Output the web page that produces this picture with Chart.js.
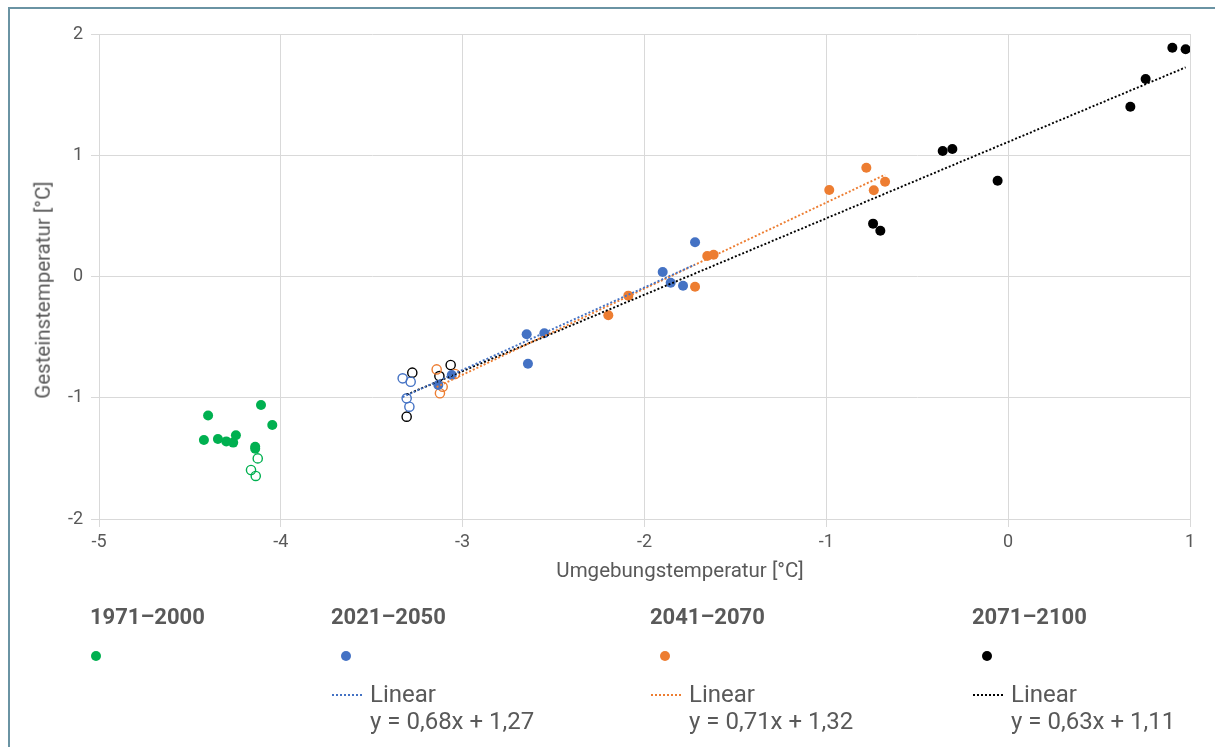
<!DOCTYPE html>
<html>
<head>
<meta charset="utf-8">
<script src="https://cdn.jsdelivr.net/npm/chart.js@4"></script>
<style>
  html, body { margin: 0; padding: 0; background: #fff; }
  #wrap { position: relative; width: 1215px; height: 747px; overflow: hidden; font-family: Roboto, "Noto Sans", sans-serif; color: #595959; }
  #frame { position: absolute; left: 8px; top: 7px; width: 1300px; height: 800px; border-left: 2px solid #6a93a3; border-top: 2px solid #6a93a3; }
  canvas { position: absolute; left: 0; top: 0; }
  .t { position: absolute; white-space: nowrap; line-height: 1; }
  .title { font-size: 22px; font-weight: bold; }
  .lin { font-size: 24px; }
  .dot { position: absolute; width: 10px; height: 10px; border-radius: 50%; }
  .sample { position: absolute; width: 30px; height: 0; border-top: 2px dotted; }
  .axt { position: absolute; font-size: 20.5px; white-space: nowrap; line-height: 1; }
</style>
</head>
<body>
<div id="wrap">
  <div id="frame"></div>
  <canvas id="c" width="1215" height="747"></canvas>
  <div id="legend"></div>
  <div class="axt" id="ytitle">Gesteinstemperatur [°C]</div>
  <div class="axt" id="xtitle">Umgebungstemperatur [°C]</div>
</div>
<script>
// ---- data ----
const periods = ["1971–2000", "2021–2050", "2041–2070", "2071–2100"];
const colors = ["#00b050", "#4472c4", "#ed7d31", "#000000"];

const green1971Filled = [
  {x:-4.423,y:-1.348},{x:-4.400,y:-1.146},{x:-4.346,y:-1.340},{x:-4.300,y:-1.360},
  {x:-4.262,y:-1.370},{x:-4.247,y:-1.310},{x:-4.109,y:-1.060},{x:-4.047,y:-1.225},
  {x:-4.141,y:-1.404},{x:-4.141,y:-1.420}
];
const green1971Open = [
  {x:-4.127,y:-1.500},{x:-4.164,y:-1.596},{x:-4.138,y:-1.645}
];
const blue2021Filled = [
  {x:-2.648,y:-0.477},{x:-2.551,y:-0.468},{x:-2.641,y:-0.719},{x:-1.900,y:0.037},
  {x:-1.856,y:-0.051},{x:-1.788,y:-0.076},{x:-1.722,y:0.282},{x:-3.134,y:-0.895},
  {x:-3.060,y:-0.812}
];
const blue2021Open = [
  {x:-3.330,y:-0.840},{x:-3.286,y:-0.868},{x:-3.308,y:-1.005},{x:-3.293,y:-1.074}
];
const orange2041Filled = [
  {x:-2.089,y:-0.158},{x:-2.199,y:-0.320},{x:-1.722,y:-0.085},{x:-1.655,y:0.169},
  {x:-1.620,y:0.180},{x:-0.984,y:0.713},{x:-0.780,y:0.897},{x:-0.739,y:0.711},
  {x:-0.677,y:0.782}
];
const orange2041Open = [
  {x:-3.143,y:-0.766},{x:-3.110,y:-0.909},{x:-3.125,y:-0.963},{x:-3.042,y:-0.804}
];
const black2071Filled = [
  {x:-0.360,y:1.035},{x:-0.307,y:1.052},{x:-0.058,y:0.790},{x:-0.743,y:0.436},
  {x:-0.703,y:0.378},{x:0.903,y:1.887},{x:0.976,y:1.874},{x:0.756,y:1.629},
  {x:0.672,y:1.400}
];
const black2071Open = [
  {x:-3.277,y:-0.793},{x:-3.066,y:-0.730},{x:-3.128,y:-0.821},{x:-3.308,y:-1.156}
];

// trend lines (legend equations) and their x extents
const trendSlopes = [0.68, 0.71, 0.63];
const trendIntercepts = [1.27, 1.32, 1.11];
const trendXMin = [-3.330, -3.143, -3.308];
const trendXMax = [-1.722, -0.677, 0.976];
const trendLabels = ["y = 0,68x + 1,27", "y = 0,71x + 1,32", "y = 0,63x + 1,11"];

const xTicks = [-5, -4, -3, -2, -1, 0, 1];
const yTicks = [-2, -1, 0, 1, 2];

// ---- chart ----
function filledDs(data, col) {
  return { type:'scatter', data, pointRadius:5, pointHoverRadius:5, pointBackgroundColor:col, pointBorderColor:col, pointBorderWidth:0, order:2 };
}
function openDs(data, col) {
  return { type:'scatter', data, pointRadius:4.6, pointHoverRadius:4.6, pointBackgroundColor:'rgba(255,255,255,0)', pointBorderColor:col, pointBorderWidth:1.4, order:2 };
}
function trendDs(i, col) {
  const a = trendSlopes[i], b = trendIntercepts[i];
  return { type:'line', data:[{x:trendXMin[i], y:a*trendXMin[i]+b},{x:trendXMax[i], y:a*trendXMax[i]+b}],
    borderColor:col, borderWidth:1.9, borderDash:[2,2], pointRadius:0, fill:false, order:1 };
}

const datasets = [
  filledDs(green1971Filled, colors[0]), openDs(green1971Open, colors[0]),
  filledDs(blue2021Filled, colors[1]), openDs(blue2021Open, colors[1]),
  filledDs(orange2041Filled, colors[2]), openDs(orange2041Open, colors[2]),
  filledDs(black2071Filled, colors[3]), openDs(black2071Open, colors[3]),
  trendDs(0, colors[1]), trendDs(1, colors[2]), trendDs(2, colors[3])
];

const tickFont = { family: 'Roboto', size: 18 };
new Chart(document.getElementById('c'), {
  type: 'scatter',
  data: { datasets },
  options: {
    responsive: false,
    animation: false,
    devicePixelRatio: 1,
    layout: { padding: { left: 39, top: 34, right: 25, bottom: 188 } },
    plugins: { legend: { display: false }, tooltip: { enabled: false } },
    scales: {
      x: {
        type: 'linear', min: xTicks[0], max: xTicks[xTicks.length-1],
        afterBuildTicks: s => { s.ticks = xTicks.map(v => ({value:v})); },
        afterFit: s => { s.height = 40; },
        ticks: { font: tickFont, color: '#595959', padding: 5, maxRotation: 0 },
        grid: { color: '#d9d9d9', lineWidth: 1, tickLength: 8, tickColor: '#d9d9d9' },
        border: { color: '#d9d9d9' }
      },
      y: {
        type: 'linear', min: yTicks[0], max: yTicks[yTicks.length-1],
        afterBuildTicks: s => { s.ticks = yTicks.map(v => ({value:v})); },
        afterFit: s => { s.width = 60; },
        ticks: { font: tickFont, color: '#595959', padding: 8 },
        grid: { color: '#d9d9d9', lineWidth: 1, tickLength: 8, tickColor: '#d9d9d9' },
        border: { color: '#d9d9d9' }
      }
    }
  }
});

// ---- legend (HTML) ----
const legendX = [90, 331, 650, 972];
const legend = document.getElementById('legend');
periods.forEach((p, i) => {
  const t = document.createElement('div');
  t.className = 't title'; t.textContent = p;
  t.style.left = legendX[i] + 'px'; t.style.top = '606px';
  legend.appendChild(t);
  const d = document.createElement('div');
  d.className = 'dot'; d.style.background = colors[i];
  d.style.left = (legendX[i] + (i === 0 ? 1 : 10)) + 'px'; d.style.top = '651px';
  legend.appendChild(d);
  if (i > 0) {
    const s = document.createElement('div');
    s.className = 'sample'; s.style.borderTopColor = colors[i];
    s.style.left = (legendX[i] + 1) + 'px'; s.style.top = '694px';
    legend.appendChild(s);
    const l = document.createElement('div');
    l.className = 't lin'; l.textContent = 'Linear';
    l.style.left = (legendX[i] + 39) + 'px'; l.style.top = '682px';
    legend.appendChild(l);
    const e = document.createElement('div');
    e.className = 't lin'; e.textContent = trendLabels[i-1];
    e.style.left = (legendX[i] + 39) + 'px'; e.style.top = '709px';
    legend.appendChild(e);
  }
});

// axis titles
const yt = document.getElementById('ytitle');
yt.style.left = '43px'; yt.style.top = '290px';
yt.style.transform = 'translate(-50%,-50%) rotate(-90deg)';
const xt = document.getElementById('xtitle');
xt.style.left = '680px'; xt.style.top = '570px';
xt.style.transform = 'translate(-50%,-50%)';
</script>
</body>
</html>
